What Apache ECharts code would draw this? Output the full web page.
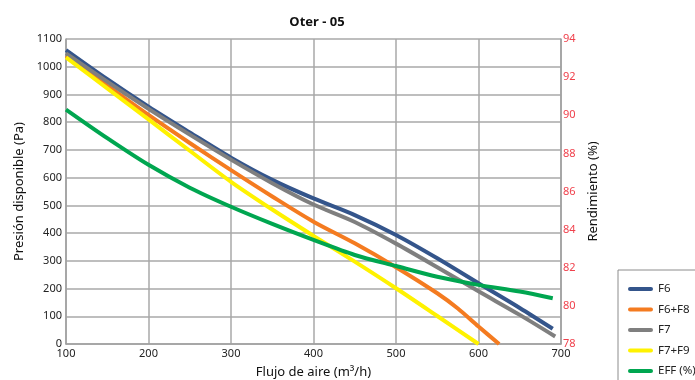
<!DOCTYPE html>
<html>
<head>
<meta charset="utf-8">
<script src="https://cdn.jsdelivr.net/npm/echarts@6/dist/echarts.min.js"></script>
<style>html,body{margin:0;padding:0;background:#fff;overflow:hidden}#c{width:695px;height:380px}</style>
</head>
<body>
<div id="c"></div>
<script>
const titleText = 'Oter - 05';
const xName = 'Flujo de aire (m³/h)';
const yLeftName = 'Presión disponible (Pa)';
const yRightName = 'Rendimiento (%)';
const seriesNames = ['F6', 'F6+F8', 'F7', 'F7+F9', 'EFF (%)'];

const flowF6 = [100, 150, 200, 250, 300, 350, 400, 450, 500, 550, 600, 650, 690];
const presF6 = [1060, 955, 856, 763, 672, 592, 525, 465, 393, 309, 219, 130, 55];

const flowF6F8 = [100, 150, 200, 250, 300, 350, 400, 450, 500, 550, 575, 600, 625];
const presF6F8 = [1040, 932, 826, 725, 627, 532, 441, 363, 277, 183, 128, 63, 0];

const flowF7 = [100, 150, 200, 250, 300, 350, 400, 450, 500, 550, 600, 650, 693];
const presF7 = [1048, 946, 848, 755, 665, 580, 503, 440, 362, 277, 190, 105, 27];

const flowF7F9 = [100, 150, 200, 250, 300, 350, 400, 450, 500, 550, 600];
const presF7F9 = [1034, 922, 810, 697, 585, 485, 390, 297, 201, 101, 0];

const flowEff = [100, 150, 200, 250, 300, 350, 400, 450, 500, 550, 600, 650, 690];
const effVals = [90.3, 88.8, 87.4, 86.2, 85.2, 84.3, 83.46, 82.67, 82.09, 81.53, 81.1, 80.75, 80.4];

const xTicks = [100, 200, 300, 400, 500, 600, 700];

const pair = (xs, ys) => xs.map((x, i) => [x, ys[i]]);
const colors = ['#34558b', '#f47b20', '#7f7f7f', '#fff200', '#00a650'];
const FONT = 'Noto Sans';
const lineIcon = 'path://M2,0 H23 A2,2 0 0 1 23,4 H2 A2,2 0 0 1 2,0 Z';

const chart = echarts.init(document.getElementById('c'), null, {renderer: 'canvas'});
const mk = (name, data, color, yIdx) => ({
  name, type: 'line', data, yAxisIndex: yIdx, smooth: 0.3, symbol: 'none',
  lineStyle: {color, width: 4}, itemStyle: {color}, clip: false
});
chart.setOption({
  animation: false,
  textStyle: {fontFamily: FONT},
  title: {
    text: titleText, left: 312, top: 11, textAlign: 'center',
    textStyle: {fontFamily: FONT, fontSize: 13, fontWeight: 'bold', color: '#111'}
  },
  grid: {left: 66, right: 134, top: 39, bottom: 36, containLabel: false, outerBoundsMode: 'none'},
  legend: {
    orient: 'vertical', left: 618, top: 270, height: 200,
    data: seriesNames.map(n => ({name: n, icon: lineIcon})),
    itemWidth: 25, itemHeight: 14, itemGap: 8.5,
    padding: [13, 30, 30, 10],
    borderColor: '#8c8c8c', borderWidth: 1,
    textStyle: {fontFamily: FONT, fontSize: 11.5, color: '#222'}
  },
  xAxis: {
    type: 'value', min: 100, max: 700, interval: 100,
    name: xName, nameLocation: 'middle', nameGap: 22,
    nameTextStyle: {fontFamily: FONT, fontSize: 13, color: '#111'},
    axisLine: {show: true, lineStyle: {color: '#a0a0a0', width: 1.5}},
    axisTick: {show: false},
    axisLabel: {fontFamily: FONT, fontSize: 11, color: '#222', margin: 4},
    splitLine: {show: true, lineStyle: {color: '#a8a8a8', width: 1.5}}
  },
  yAxis: [{
    type: 'value', min: 0, max: 1100, interval: 100,
    name: yLeftName, nameLocation: 'middle', nameGap: 35,
    nameTextStyle: {fontFamily: FONT, fontSize: 13, color: '#111'},
    axisLine: {show: true, lineStyle: {color: '#a0a0a0', width: 1.5}},
    axisTick: {show: false},
    axisLabel: {fontFamily: FONT, fontSize: 11, color: '#222', margin: 4, formatter: v => String(v)},
    splitLine: {show: true, lineStyle: {color: '#a8a8a8', width: 1.5}}
  }, {
    type: 'value', min: 78, max: 94, interval: 2, position: 'right',
    name: yRightName, nameLocation: 'middle', nameGap: 24, nameRotate: 90,
    nameTextStyle: {fontFamily: FONT, fontSize: 13, color: '#111'},
    axisLine: {show: true, lineStyle: {color: '#a0a0a0', width: 1.5}},
    axisTick: {show: false},
    axisLabel: {fontFamily: FONT, fontSize: 11, color: '#f0414c', margin: 2, formatter: v => String(v)},
    splitLine: {show: false}
  }],
  series: [
    mk(seriesNames[0], pair(flowF6, presF6), colors[0], 0),
    mk(seriesNames[1], pair(flowF6F8, presF6F8), colors[1], 0),
    mk(seriesNames[2], pair(flowF7, presF7), colors[2], 0),
    mk(seriesNames[3], pair(flowF7F9, presF7F9), colors[3], 0),
    mk(seriesNames[4], pair(flowEff, effVals), colors[4], 1)
  ]
});
</script>
</body>
</html>
